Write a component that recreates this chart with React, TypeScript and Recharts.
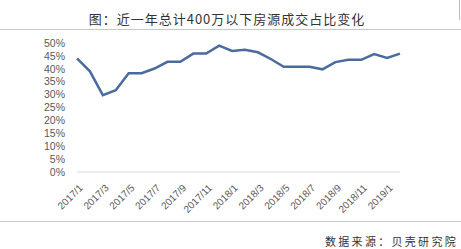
import React from 'react';
import { LineChart, Line, XAxis, YAxis } from 'recharts';

const months = [
  '2017/1', '2017/2', '2017/3', '2017/4', '2017/5', '2017/6', '2017/7', '2017/8', '2017/9',
  '2017/10', '2017/11', '2017/12', '2018/1', '2018/2', '2018/3', '2018/4', '2018/5', '2018/6',
  '2018/7', '2018/8', '2018/9', '2018/10', '2018/11', '2018/12', '2019/1', '2019/2',
];

const shares = [
  0.44, 0.39, 0.298, 0.317, 0.383, 0.383, 0.401, 0.427, 0.427, 0.459, 0.459, 0.49, 0.469,
  0.474, 0.464, 0.438, 0.408, 0.408, 0.408, 0.398, 0.426, 0.435, 0.435, 0.457, 0.442, 0.459,
];

const yTicks = [0, 0.05, 0.1, 0.15, 0.2, 0.25, 0.3, 0.35, 0.4, 0.45, 0.5];

const data = months.map((m, i) => ({ month: m, share: shares[i] }));

const tickFont = '"Liberation Sans", Arial, sans-serif';

interface TickProps {
  x?: number;
  y?: number;
  payload?: { value: string };
}

const SlantTick: React.FC<TickProps> = ({ x = 0, y = 0, payload }) => (
  <g transform={`translate(${x + 4},${y + 6})`}>
    <text
      x={0}
      y={0}
      dy="0.35em"
      textAnchor="end"
      transform="rotate(-45)"
      fontSize={10}
      fill="#595959"
      fontFamily={tickFont}
    >
      {payload?.value}
    </text>
  </g>
);

export default function App() {
  return (
    <div
      style={{
        position: 'fixed',
        top: 0,
        left: 0,
        width: 461,
        height: 249,
        background: '#fff',
        overflow: 'hidden',
      }}
    >
      <div
        style={{
          position: 'absolute',
          top: 11,
          left: 0,
          width: 454,
          textAlign: 'center',
          fontSize: 13,
          letterSpacing: 1,
          color: '#333',
          fontFamily: '"Noto Sans CJK SC", sans-serif',
          lineHeight: '16px',
        }}
      >
        图：近一年总计400万以下房源成交占比变化
      </div>
      <div style={{ position: 'absolute', top: 0, left: 459, width: 1, height: 20, background: '#bbb' }} />
      <div style={{ position: 'absolute', top: 29, left: 0, width: 461, height: 1, background: '#c8c8c8' }} />
      <div style={{ position: 'absolute', top: 221, left: 0, width: 461, height: 1, background: '#c8c8c8' }} />
      <div
        style={{
          position: 'absolute',
          top: 234,
          right: 3,
          fontSize: 11,
          letterSpacing: 2.3,
          color: '#333',
          fontFamily: '"Noto Sans CJK SC", sans-serif',
          lineHeight: '14px',
        }}
      >
        数据来源：贝壳研究院
      </div>
      <div style={{ position: 'absolute', top: 0, left: 0 }}>
        <LineChart
          width={461}
          height={249}
          data={data}
          margin={{ top: 43, right: 61, left: 0, bottom: 17 }}
        >
          <XAxis
            dataKey="month"
            interval={1}
            tick={<SlantTick />}
            tickLine={false}
            axisLine={{ stroke: '#d9d9d9' }}
            height={60}
          />
          <YAxis
            domain={[0, 0.5]}
            ticks={yTicks}
            interval={0}
            tickFormatter={(v: number) => `${Math.round(v * 100)}%`}
            tick={{ fontSize: 10.5, fill: '#595959', fontFamily: tickFont }}
            tickLine={false}
            axisLine={false}
            width={77}
            tickMargin={6}
          />
          <Line
            type="linear"
            dataKey="share"
            stroke="#4a6b9e"
            strokeWidth={2.5}
            dot={false}
            isAnimationActive={false}
          />
        </LineChart>
      </div>
    </div>
  );
}
